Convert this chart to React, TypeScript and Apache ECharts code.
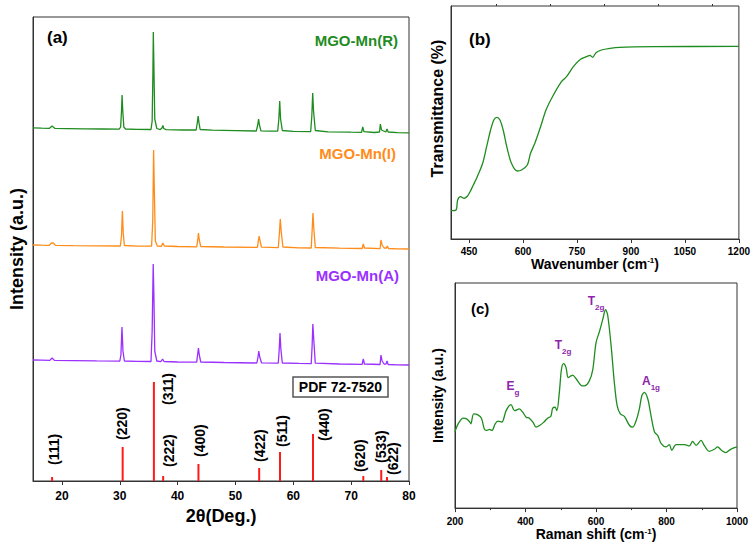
import React, { useEffect, useRef } from "react";
import * as echarts from "echarts";

// ---------- (a) XRD ----------
const xrdGreen: number[][] = [
  [15, 353.2], [16.5, 352.8], [17.8, 352.6], [18.3, 355], [18.8, 352.6], [21, 352.4], [24, 352.2], [27, 352],
  [29.9, 351.8], [30.15, 354], [30.3, 370], [30.4, 386], [30.5, 372], [30.7, 354], [31, 352], [33, 351.6],
  [35.4, 351.5], [35.6, 360], [35.72, 405], [35.8, 449], [35.9, 415], [36.05, 362], [36.4, 352.5], [37, 351.4],
  [37.3, 353], [37.45, 355.5], [37.6, 352.5], [38, 351.3], [41, 351], [43.2, 351], [43.4, 358], [43.55, 365],
  [43.7, 358], [43.9, 351.5], [46, 350.8], [50, 350.4], [53.6, 350], [53.85, 356], [54, 362], [54.15, 356],
  [54.4, 350.2], [56, 349.9], [57.3, 349.8], [57.5, 362], [57.65, 380], [57.8, 362], [58.1, 350.5], [60, 349.6],
  [63, 349.3], [63.2, 365], [63.35, 388], [63.5, 370], [63.8, 350.5], [66, 349.2], [70, 348.8], [71.8, 348.7],
  [72, 354], [72.2, 349.3], [74, 348.5], [74.9, 349], [75.05, 357], [75.25, 351], [75.6, 350], [76.0, 349],
  [76.2, 352], [76.4, 349], [78, 348.4], [80, 348.2],
];

const xrdOrange: number[][] = [
  [15, 236], [16.5, 235.8], [17.8, 235.7], [18.2, 238], [18.5, 238], [18.9, 235.6], [22, 235.3], [26, 235.2],
  [30.1, 235], [30.3, 245], [30.45, 270], [30.6, 248], [30.8, 235.5], [33, 234.9], [35.5, 234.8], [35.7, 260],
  [35.85, 331], [35.98, 290], [36.15, 240], [36.5, 235], [37.2, 234.7], [37.45, 238], [37.7, 235], [40, 234.5],
  [43.3, 234.2], [43.5, 242], [43.6, 248], [43.75, 241], [44, 234.5], [48, 234], [53.8, 233.6], [53.95, 240],
  [54.1, 245], [54.25, 240], [54.5, 233.8], [57.4, 233.4], [57.6, 248], [57.75, 262], [57.9, 250], [58.2, 234],
  [61, 233.2], [63.1, 233], [63.25, 250], [63.4, 268], [63.55, 252], [63.8, 233.5], [68, 232.8], [71.9, 232.5],
  [72.1, 237], [72.3, 233], [75, 232.3], [75.15, 241], [75.35, 236], [75.7, 233], [76.1, 233], [76.25, 235],
  [76.45, 232.5], [78, 232.2], [80, 232],
];

const xrdPurple: number[][] = [
  [15, 121], [16.5, 120.8], [17.9, 120.6], [18.3, 123], [18.7, 120.6], [22, 120.4], [26, 120.1], [30, 119.9],
  [30.2, 126], [30.38, 154], [30.55, 130], [30.8, 120], [33, 119.6], [35.4, 119.5], [35.6, 150], [35.78, 217],
  [35.9, 185], [36.05, 130], [36.4, 120], [37.1, 119.4], [37.4, 122], [37.65, 119.5], [40, 119], [43.3, 118.9],
  [43.45, 126], [43.6, 133], [43.75, 126], [44.0, 119], [48, 118.5], [53.7, 118], [53.9, 124], [54.03, 130],
  [54.2, 124], [54.5, 118.2], [57.4, 117.8], [57.55, 130], [57.7, 148], [57.85, 132], [58.1, 118], [61, 117.6],
  [63.1, 117.4], [63.25, 135], [63.38, 157], [63.55, 140], [63.8, 117.8], [68, 117], [71.9, 116.7], [72.1, 122],
  [72.3, 117], [75, 116.5], [75.15, 126], [75.35, 120], [75.7, 117], [76.0, 116.8], [76.2, 120], [76.4, 116.5],
  [78, 116.2], [80, 116],
];

const pdfAngles = [18.3, 30.5, 35.9, 37.5, 43.6, 54.1, 57.7, 63.4, 72.1, 75.2, 76.2];
const pdfHeights = [4, 34, 99, 5, 17, 13, 29, 47, 5, 11, 4];
const hklLabels = ["(111)", "(220)", "(311)", "(222)", "(400)", "(422)", "(511)", "(440)", "(620)", "(533)", "(622)"];
const xrdTicks = [20, 30, 40, 50, 60, 70, 80];

// ---------- (b) FTIR ----------
const ftirWavenumber = [
  400, 414, 418.5, 427, 436, 446, 453, 462, 473, 488, 499, 510, 519, 527, 536, 545, 555, 568, 584, 596, 612,
  621, 633, 649, 664, 682, 707, 721, 740, 760, 777, 786, 793.5, 803, 818, 842, 869, 962, 1200,
];
const ftirTransmittance = [
  28.3, 29, 39, 42.3, 40.7, 43, 47.3, 54, 62.3, 75.7, 92.3, 109, 119, 121.7, 119, 109, 92.3, 75.7, 68, 69, 74,
  85.7, 95.7, 112.3, 129, 142.3, 157.3, 162.3, 172.3, 179.7, 182.3, 183.7, 181.7, 186.3, 189, 190.7, 191.7, 192.3, 192.7,
];
const ftirTicks = [450, 600, 750, 900, 1050, 1200];
const ftirMinorTicks = [525, 675, 825, 975, 1125];

// ---------- (c) Raman ----------
const ramanShift = [
  200, 209, 223, 233, 242, 245, 253, 265, 275, 283, 289, 298, 305, 314, 322, 333, 345, 359, 369, 383, 392, 402,
  411, 421, 430, 440, 452, 463, 472, 477, 484, 489, 496, 502, 508, 515, 521, 529, 534, 543, 557, 567, 581, 591,
  600, 610, 619, 627, 633, 643, 652, 660, 669, 681, 695, 704, 714, 723, 730, 737, 747, 756, 766, 775, 785, 799,
  808, 815, 827, 851, 865, 874, 884, 898, 907, 921, 936, 945, 956, 968, 982, 1000,
];
const ramanIntensity = [
  77.3, 85, 90.7, 90, 86.7, 85, 95, 94, 90.7, 80, 78.3, 79.3, 78.3, 85, 87.7, 86.7, 98.3, 104.3, 98.3, 100, 96.7,
  91.7, 90.7, 86.7, 81.7, 83.3, 86.7, 90.7, 92.7, 100.7, 101.7, 98.3, 116.7, 140, 145.7, 141.7, 131.7, 133.3, 134,
  130.7, 124, 123.3, 128.3, 140, 166.7, 178.3, 190, 200, 195, 163.3, 126.7, 103.3, 95, 92.3, 83.3, 81.7, 88.3, 100,
  113.3, 116.7, 110, 93.3, 76.7, 73.3, 65, 61.7, 64, 58.3, 64, 64, 62.7, 67.3, 63.3, 68.3, 63.3, 57.3, 59.3, 61.7,
  58.3, 56, 59.3, 61.7,
];

const FONT = "'Liberation Sans', Arial, sans-serif";
const GREEN = "#1f8c1f";
const ORANGE = "#ff8c1a";
const PURPLE = "#9b30ff";
const RAMAN_LABEL = "#8e24aa";
const AXIS = "#333";

// label placement of the hkl indices: [dx from stick centre, dy from stick top] in px
const hklLabelShift = [
  [2, -12], [-1, -7], [14, 23], [6, -9], [2, -7], [1, -6], [2, -5], [11, 7], [-3, -4], [0, -7], [6, -2],
];

export default function App() {
  const ref = useRef<HTMLDivElement>(null);

  useEffect(() => {
    if (!ref.current) return;
    const chart = echarts.init(ref.current, null, { renderer: "svg" });

    const plain = (v: number) => String(v);
    const tickLabel = (size: number) => ({
      color: "#000",
      fontWeight: "bold" as const,
      fontSize: size,
      fontFamily: FONT,
      formatter: plain,
    });
    const nameStyle = (size: number, extra: any = {}) => ({
      color: "#000",
      fontWeight: "bold" as const,
      fontSize: size,
      fontFamily: FONT,
      rich: {
        sup: { fontSize: Math.round(size * 0.6), fontWeight: "bold", fontFamily: FONT, color: "#000", verticalAlign: "top" },
      },
      ...extra,
    });
    const axisLine = { show: true, lineStyle: { color: AXIS, width: 1 } };

    const ramanMode = (x: number, y: number, main: string, sub: string) => ({
      type: "text",
      x,
      y,
      style: {
        text: `{m|${main}}{s|${sub}}`,
        textAlign: "center",
        textVerticalAlign: "middle",
        rich: {
          m: { fontSize: 12, fontWeight: "bold", fontFamily: FONT, fill: RAMAN_LABEL, verticalAlign: "bottom", padding: [0, 0, 4, 0] },
          s: { fontSize: 8, fontWeight: "bold", fontFamily: FONT, fill: RAMAN_LABEL, verticalAlign: "bottom" },
        },
      },
    });

    const option: any = {
      animation: false,
      backgroundColor: "#fff",
      textStyle: { fontFamily: FONT },
      grid: [
        { left: 31, top: 17, width: 378, height: 464, show: true, borderColor: AXIS, borderWidth: 1, backgroundColor: "transparent" },
        { left: 451, top: 6, width: 288, height: 233, show: true, borderColor: AXIS, borderWidth: 1, backgroundColor: "transparent" },
        { left: 455, top: 283, width: 282, height: 227, show: true, borderColor: AXIS, borderWidth: 1, backgroundColor: "transparent" },
      ],
      xAxis: [
        {
          type: "value", gridIndex: 0, min: 15, max: 80,
          axisLine, splitLine: { show: false },
          axisTick: { show: true, customValues: xrdTicks, length: 4, lineStyle: { color: AXIS } },
          axisLabel: { ...tickLabel(12), customValues: xrdTicks, margin: 9 },
          name: "2θ(Deg.)", nameLocation: "middle", nameGap: 11, nameTextStyle: nameStyle(18),
        },
        {
          type: "value", gridIndex: 1, min: 400, max: 1200,
          axisLine, splitLine: { show: false },
          axisTick: { show: true, customValues: ftirTicks, length: 4, lineStyle: { color: AXIS } },
          axisLabel: { ...tickLabel(10), customValues: ftirTicks, margin: 7 },
          name: "Wavenumber (cm{sup|-1})", nameLocation: "middle", nameGap: 17, nameTextStyle: nameStyle(14),
        },
        {
          type: "value", gridIndex: 2, min: 200, max: 1000, interval: 200,
          axisLine, splitLine: { show: false },
          axisTick: { show: true, length: 4, lineStyle: { color: AXIS } },
          minorTick: { show: true, splitNumber: 2, length: 2, lineStyle: { color: AXIS } },
          axisLabel: { ...tickLabel(10), margin: 8 },
          name: "Raman shift (cm{sup|-1})", nameLocation: "middle", nameGap: 16, nameTextStyle: nameStyle(14),
        },
        {
          type: "value", gridIndex: 1, min: 400, max: 1200,
          axisLine: { show: false }, splitLine: { show: false }, axisLabel: { show: false },
          axisTick: { show: true, customValues: ftirMinorTicks, length: 2, lineStyle: { color: AXIS } },
        },
      ],
      yAxis: [
        {
          type: "value", gridIndex: 0, min: 0, max: 464,
          axisLine, axisTick: { show: false }, axisLabel: { show: false }, splitLine: { show: false },
          name: "Intensity (a.u.)", nameLocation: "middle", nameGap: 7, nameTextStyle: nameStyle(18),
        },
        {
          type: "value", gridIndex: 1, min: 0, max: 233,
          axisLine, axisTick: { show: false }, axisLabel: { show: false }, splitLine: { show: false },
          name: "Transmittance (%)", nameLocation: "middle", nameGap: 6, nameTextStyle: nameStyle(16, { padding: [0, 0, 0, 28] }),
        },
        {
          type: "value", gridIndex: 2, min: 0, max: 227,
          axisLine, axisTick: { show: false }, axisLabel: { show: false }, splitLine: { show: false },
          name: "Intensity (a.u.)", nameLocation: "middle", nameGap: 10, nameTextStyle: nameStyle(14),
        },
      ],
      series: [
        {
          name: "MGO-Mn(R)", type: "line", xAxisIndex: 0, yAxisIndex: 0, data: xrdGreen,
          showSymbol: false, lineStyle: { color: GREEN, width: 1.3 }, itemStyle: { color: GREEN },
        },
        {
          name: "MGO-Mn(I)", type: "line", xAxisIndex: 0, yAxisIndex: 0, data: xrdOrange,
          showSymbol: false, lineStyle: { color: ORANGE, width: 1.3 }, itemStyle: { color: ORANGE },
        },
        {
          name: "MGO-Mn(A)", type: "line", xAxisIndex: 0, yAxisIndex: 0, data: xrdPurple,
          showSymbol: false, lineStyle: { color: PURPLE, width: 1.3 }, itemStyle: { color: PURPLE },
        },
        {
          name: "PDF 72-7520", type: "bar", xAxisIndex: 0, yAxisIndex: 0, barWidth: 2,
          itemStyle: { color: "#ff1a1a" },
          data: pdfAngles.map((a, i) => ({
            value: [a, pdfHeights[i]],
            label: {
              show: true,
              formatter: hklLabels[i],
              position: [1 + hklLabelShift[i][0], hklLabelShift[i][1]],
              rotate: 90,
              align: "left",
              verticalAlign: "middle",
              color: "#000",
              fontWeight: "bold",
              fontSize: 14,
              fontFamily: FONT,
            },
          })),
        },
        {
          name: "FTIR", type: "line", xAxisIndex: 1, yAxisIndex: 1, data: ftirWavenumber.map((w, i) => [w, ftirTransmittance[i]]),
          showSymbol: false, smooth: 0.3, lineStyle: { color: GREEN, width: 1.3 },
        },
        {
          name: "Raman", type: "line", xAxisIndex: 2, yAxisIndex: 2, data: ramanShift.map((r, i) => [r, ramanIntensity[i]]),
          showSymbol: false, smooth: 0.3, lineStyle: { color: GREEN, width: 1.3 },
        },
      ],
      graphic: [
        { type: "text", x: 47, y: 37, style: { text: "(a)", fontSize: 17, fontWeight: "bold", fontFamily: FONT, fill: "#000", textVerticalAlign: "middle" } },
        { type: "text", x: 469, y: 39, style: { text: "(b)", fontSize: 17, fontWeight: "bold", fontFamily: FONT, fill: "#000", textVerticalAlign: "middle" } },
        { type: "text", x: 471, y: 308, style: { text: "(c)", fontSize: 15, fontWeight: "bold", fontFamily: FONT, fill: "#000", textVerticalAlign: "middle" } },
        { type: "text", x: 398, y: 40, style: { text: "MGO-Mn(R)", fontSize: 15, fontWeight: "bold", fontFamily: FONT, fill: GREEN, textAlign: "right", textVerticalAlign: "middle" } },
        { type: "text", x: 396, y: 153, style: { text: "MGO-Mn(I)", fontSize: 15, fontWeight: "bold", fontFamily: FONT, fill: ORANGE, textAlign: "right", textVerticalAlign: "middle" } },
        { type: "text", x: 399, y: 275, style: { text: "MGO-Mn(A)", fontSize: 15, fontWeight: "bold", fontFamily: FONT, fill: PURPLE, textAlign: "right", textVerticalAlign: "middle" } },
        { type: "rect", shape: { x: 293, y: 377, width: 95, height: 20 }, style: { fill: "#fff", stroke: "#555", lineWidth: 1.5 } },
        { type: "text", x: 340.5, y: 387, style: { text: "PDF 72-7520", fontSize: 14, fontWeight: "bold", fontFamily: FONT, fill: "#000", textAlign: "center", textVerticalAlign: "middle" } },
        ramanMode(513, 388, "E", "g"),
        ramanMode(563, 347, "T", "2g"),
        ramanMode(596, 303, "T", "2g"),
        ramanMode(651, 383, "A", "1g"),
      ],
    };

    chart.setOption(option);
    return () => chart.dispose();
  }, []);

  return <div ref={ref} style={{ position: "fixed", left: 0, top: 0, width: 753, height: 542 }} />;
}
